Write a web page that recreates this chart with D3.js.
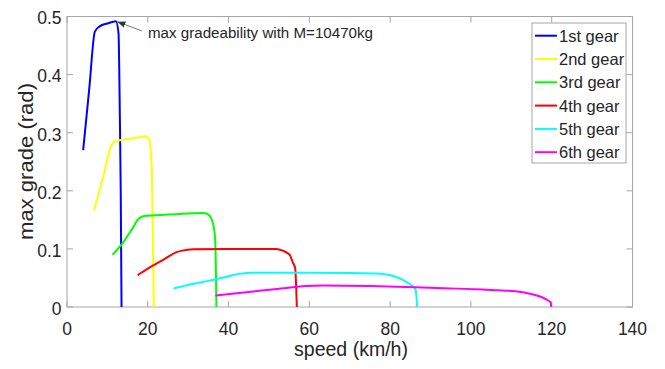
<!DOCTYPE html>
<html>
<head>
<meta charset="utf-8">
<script src="https://cdn.jsdelivr.net/npm/d3@7"></script>
<style>
  html, body { margin: 0; padding: 0; background: #fff; }
  svg { display: block; font-family: "Liberation Sans", Arial, sans-serif; }
</style>
</head>
<body>
<svg id="chart" width="665" height="369"></svg>
<script>
// Max gradeability per gear vs. vehicle speed
const gearNames = ["1st gear", "2nd gear", "3rd gear", "4th gear", "5th gear", "6th gear"];
const gearColors = ["#0000ff", "#ffff00", "#00ff00", "#ff0000", "#00ffff", "#ff00ff"];

// [speed km/h, grade rad]
const gear1 = [[4.0,0.270],[5.5,0.375],[6.9,0.474],[8.1,0.483],[10.0,0.488],[12.1,0.492],[12.75,0.472],[13.1,0.32],[13.3,0.2],[13.5,0.0]];
const gear2 = [[6.7,0.166],[9.0,0.225],[11.0,0.278],[11.6,0.284],[14,0.288],[17,0.291],[19.5,0.294],[20.3,0.288],[20.7,0.27],[21.0,0.239],[21.5,0.0]];
const gear3 = [[11.3,0.090],[14,0.112],[16,0.133],[17.9,0.153],[19.5,0.157],[25,0.159],[30,0.161],[33.7,0.162],[34.8,0.160],[35.7,0.153],[36.4,0.135],[36.7,0.113],[37.0,0.0]];
const gear4 = [[17.5,0.055],[20,0.066],[24,0.082],[27.0,0.094],[28.5,0.097],[31.2,0.0995],[40,0.100],[51.8,0.100],[53.4,0.097],[55.1,0.090],[55.9,0.077],[56.5,0.066],[56.9,0.0]];
const gear5 = [[26.4,0.032],[30,0.038],[35,0.045],[40,0.053],[42.7,0.057],[46,0.059],[60,0.059],[70,0.0585],[78.1,0.057],[81,0.053],[83.0,0.047],[85.5,0.036],[86.3,0.030],[86.7,0.0]];
const gear6 = [[36.7,0.0195],[45,0.026],[52,0.031],[59.2,0.036],[63.3,0.037],[75,0.036],[86.3,0.034],[95,0.032],[102.8,0.030],[111,0.027],[115.1,0.022],[118.4,0.014],[119.7,0.008],[119.9,0.0]];
const gearSeries = [gear1, gear2, gear3, gear4, gear5, gear6];

const xTicks = [0, 20, 40, 60, 80, 100, 120, 140];
const yTicks = [0, 0.1, 0.2, 0.3, 0.4, 0.5];
const yTickLabels = ["0", "0.1", "0.2", "0.3", "0.4", "0.5"];

const peakPoint = [12.1, 0.492];
const annotationText = "max gradeability with M=10470kg";

const svg = d3.select("#chart");
const plotLeft = 67, plotRight = 632.5, plotTop = 16.5, plotBottom = 307;

const x = d3.scaleLinear().domain([0, 140]).range([plotLeft, plotRight]);
const y = d3.scaleLinear().domain([0, 0.5]).range([plotBottom, plotTop]);

const axisColor = "#a6a6a6";
const textColor = "#262626";

// frame
svg.append("rect")
  .attr("x", plotLeft).attr("y", plotTop)
  .attr("width", plotRight - plotLeft).attr("height", plotBottom - plotTop)
  .attr("fill", "none").attr("stroke", axisColor).attr("stroke-width", 1);

const tickLen = 6;
// bottom / top ticks
const gx = svg.append("g");
gx.selectAll("line.b").data(xTicks).join("line").attr("class", "b")
  .attr("x1", d => x(d)).attr("x2", d => x(d))
  .attr("y1", plotBottom).attr("y2", plotBottom - tickLen)
  .attr("stroke", axisColor);
gx.selectAll("line.t").data(xTicks).join("line").attr("class", "t")
  .attr("x1", d => x(d)).attr("x2", d => x(d))
  .attr("y1", plotTop).attr("y2", plotTop + tickLen)
  .attr("stroke", axisColor);
gx.selectAll("text").data(xTicks).join("text")
  .attr("x", d => x(d)).attr("y", 334.5)
  .attr("text-anchor", "middle")
  .attr("font-size", 17.5).attr("fill", textColor)
  .text(d => d);

// left / right ticks
const gy = svg.append("g");
gy.selectAll("line.l").data(yTicks).join("line").attr("class", "l")
  .attr("x1", plotLeft).attr("x2", plotLeft + tickLen)
  .attr("y1", d => y(d)).attr("y2", d => y(d))
  .attr("stroke", axisColor);
gy.selectAll("line.r").data(yTicks).join("line").attr("class", "r")
  .attr("x1", plotRight).attr("x2", plotRight - tickLen)
  .attr("y1", d => y(d)).attr("y2", d => y(d))
  .attr("stroke", axisColor);
gy.selectAll("text").data(yTicks).join("text")
  .attr("x", 61.5).attr("y", d => y(d))
  .attr("dy", "0.45em")
  .attr("text-anchor", "end")
  .attr("font-size", 17.5).attr("fill", textColor)
  .text((d, i) => yTickLabels[i]);

// axis titles
svg.append("text")
  .attr("x", 351).attr("y", 356)
  .attr("text-anchor", "middle")
  .attr("font-size", 20).attr("fill", textColor)
  .attr("textLength", 114).attr("lengthAdjust", "spacingAndGlyphs")
  .text("speed (km/h)");
svg.append("text")
  .attr("transform", "translate(32.5,161.5) rotate(-90)")
  .attr("text-anchor", "middle")
  .attr("font-size", 20.5).attr("fill", textColor)
  .attr("textLength", 157).attr("lengthAdjust", "spacingAndGlyphs")
  .text("max grade (rad)");

// curves
const line = d3.line()
  .x(d => x(d[0])).y(d => y(d[1]))
  .curve(d3.curveMonotoneX);
svg.append("g").selectAll("path").data(gearSeries).join("path")
  .attr("d", line)
  .attr("fill", "none")
  .attr("stroke", (d, i) => gearColors[i])
  .attr("stroke-width", 2)
  .attr("stroke-linejoin", "round");

// annotation arrow
const defs = svg.append("defs");
defs.append("marker")
  .attr("id", "arrowhead")
  .attr("viewBox", "0 0 10 10")
  .attr("refX", 10).attr("refY", 5)
  .attr("markerWidth", 8).attr("markerHeight", 8)
  .attr("markerUnits", "userSpaceOnUse")
  .attr("orient", "auto")
  .append("path").attr("d", "M0,1 L10,5 L0,9 Z").attr("fill", "#333");

svg.append("line")
  .attr("x1", 142).attr("y1", 31)
  .attr("x2", x(peakPoint[0]) + 1.5).attr("y2", y(peakPoint[1]) + 0.5)
  .attr("stroke", "#555").attr("stroke-width", 0.8)
  .attr("marker-end", "url(#arrowhead)");
svg.append("text")
  .attr("x", 148).attr("y", 37.5)
  .attr("font-size", 15.5).attr("fill", textColor)
  .attr("textLength", 225).attr("lengthAdjust", "spacingAndGlyphs")
  .text(annotationText);

// legend
const lg = svg.append("g");
lg.append("rect")
  .attr("x", 532).attr("y", 23).attr("width", 94).attr("height", 140)
  .attr("fill", "#fff").attr("stroke", axisColor);
const rowY = i => 35.7 + i * 23.3;
lg.selectAll("line").data(gearNames).join("line")
  .attr("x1", 535).attr("x2", 557)
  .attr("y1", (d, i) => rowY(i)).attr("y2", (d, i) => rowY(i))
  .attr("stroke", (d, i) => gearColors[i]).attr("stroke-width", 2);
lg.selectAll("text").data(gearNames).join("text")
  .attr("x", 559).attr("y", (d, i) => rowY(i))
  .attr("dy", "0.36em")
  .attr("font-size", 16.5).attr("fill", textColor)
  .text(d => d);
</script>
</body>
</html>
